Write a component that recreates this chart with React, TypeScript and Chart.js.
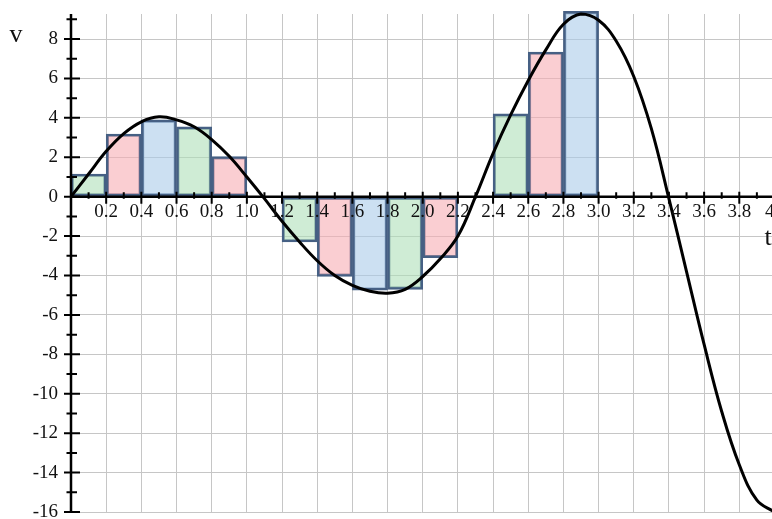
import { useEffect, useRef } from 'react';
import { Chart, registerables } from 'chart.js';

Chart.register(...registerables);

// ---- data ----
const CURVE_T = [
  0, 0.1, 0.2, 0.3, 0.4, 0.5, 0.6, 0.7, 0.8, 0.9,
  1.0, 1.1, 1.2, 1.3, 1.4, 1.5, 1.6, 1.7, 1.8, 1.9,
  2.0, 2.1, 2.2, 2.3, 2.4, 2.5, 2.6, 2.7, 2.8, 2.9,
  3.0, 3.1, 3.2, 3.3, 3.4, 3.5, 3.6, 3.7, 3.8, 3.9, 4.0,
];
const CURVE_V = [
  0, 1.15, 2.3, 3.2, 3.8, 4.05, 3.9, 3.55, 2.9, 2.05,
  1.0, -0.1, -1.25, -2.3, -3.25, -4.0, -4.5, -4.8, -4.9, -4.7,
  -4.05, -3.15, -2.0, 0.0, 2.2, 4.15, 5.9, 7.45, 8.75, 9.27,
  8.95, 7.9, 6.1, 3.45, -0.1, -3.8, -7.5, -10.9, -13.6, -15.4, -16.0,
];

const BAR_T = [0.1, 0.3, 0.5, 0.7, 0.9, 1.1, 1.3, 1.5, 1.7, 1.9, 2.1, 2.3, 2.5, 2.7, 2.9];
const BAR_V = [1.15, 3.18, 3.9, 3.54, 2.03, 0, -2.3, -4.04, -4.75, -4.7, -3.1, 0, 4.2, 7.34, 9.4];
const BAR_FILL_CYCLE = ['rgba(175,223,185,0.6)', 'rgba(247,173,180,0.6)', 'rgba(170,203,233,0.6)'];
const BAR_BORDER = 'rgb(70,96,132)';

const X_TICK_VALUES = [0, 0.2, 0.4, 0.6, 0.8, 1.0, 1.2, 1.4, 1.6, 1.8, 2.0, 2.2, 2.4, 2.6, 2.8, 3.0, 3.2, 3.4, 3.6, 3.8, 4.0];
const X_TICK_LABELS = ['', '0.2', '0.4', '0.6', '0.8', '1.0', '1.2', '1.4', '1.6', '1.8', '2.0', '2.2', '2.4', '2.6', '2.8', '3.0', '3.2', '3.4', '3.6', '3.8', '4  '];
const Y_TICK_VALUES = [-16, -14, -12, -10, -8, -6, -4, -2, 0, 2, 4, 6, 8];
const Y_TICK_LABELS = ['-16', '-14', '-12', '-10', '-8', '-6', '-4', '-2', '0', '2', '4', '6', '8'];

const X_MIN = 0;
const X_MAX = 3.986;
const Y_MIN = -16;
const Y_MAX = 9.27;

const FONT = '"Liberation Serif", "Times New Roman", serif';

export default function App() {
  const ref = useRef<HTMLCanvasElement>(null);

  useEffect(() => {
    document.body.style.margin = '0';
    const canvas = ref.current;
    if (!canvas) return;

    const axesPlugin = {
      id: 'mapleAxes',
      afterDatasetsDraw(chart: any) {
        const { ctx, chartArea, scales } = chart;
        const xs = scales.x;
        const ys = scales.y;
        const x0 = xs.getPixelForValue(0);
        const y0 = ys.getPixelForValue(0);
        ctx.save();
        ctx.strokeStyle = '#000';
        ctx.lineWidth = 2.5;
        ctx.beginPath();
        ctx.moveTo(x0, chartArea.top);
        ctx.lineTo(x0, chartArea.bottom);
        ctx.moveTo(chartArea.left, y0);
        ctx.lineTo(chartArea.right, y0);
        ctx.stroke();
        ctx.lineWidth = 2;
        ctx.beginPath();
        for (let k = -16; k <= 9; k++) {
          const py = ys.getPixelForValue(k);
          if (k % 2 === 0) {
            ctx.moveTo(x0 - 7, py);
            ctx.lineTo(x0 + 9, py);
          } else {
            ctx.moveTo(x0 - 4.5, py);
            ctx.lineTo(x0 + 6, py);
          }
        }
        for (let k = 1; k <= 39; k++) {
          const px = xs.getPixelForValue(k / 10);
          if (k % 2 === 0) {
            ctx.moveTo(px, y0 - 5);
            ctx.lineTo(px, y0 + 7);
          } else {
            ctx.moveTo(px, y0 - 4.5);
            ctx.lineTo(px, y0 + 2);
          }
        }
        ctx.stroke();
        ctx.restore();
      },
      afterDraw(chart: any) {
        const { ctx } = chart;
        ctx.save();
        ctx.fillStyle = '#111';
        ctx.font = `26px ${FONT}`;
        ctx.textAlign = 'center';
        ctx.textBaseline = 'alphabetic';
        ctx.fillText('v', 16, 42);
        ctx.fillText('t', 768, 245);
        ctx.restore();
      },
    };

    const chart = new Chart(canvas, {
      type: 'bar',
      data: {
        datasets: [
          {
            type: 'line',
            data: CURVE_T.map((t, i) => ({ x: t, y: CURVE_V[i] })),
            borderColor: '#000',
            borderWidth: 3,
            pointRadius: 0,
            tension: 0.4,
            order: 0,
            clip: false,
          } as any,
          {
            type: 'bar',
            data: BAR_T.map((t, i) => ({ x: t, y: BAR_V[i] })),
            backgroundColor: BAR_T.map((_, i) => BAR_FILL_CYCLE[i % 3]),
            borderColor: BAR_BORDER,
            borderWidth: 2.5,
            borderSkipped: false,
            barPercentage: 1,
            categoryPercentage: 1,
            order: 1,
            clip: false,
          } as any,
        ],
      },
      options: {
        responsive: false,
        animation: false,
        devicePixelRatio: 1,
        layout: { padding: { top: 14, right: 0, bottom: 7, left: 0 } },
        plugins: { legend: { display: false }, tooltip: { enabled: false } },
        scales: {
          x: {
            type: 'linear',
            position: { y: 0 } as any,
            min: X_MIN,
            max: X_MAX,
            offset: false,
            grid: { color: '#c6c6c6', lineWidth: 1, drawTicks: false, offset: false, z: -1 },
            border: { display: false },
            afterBuildTicks: (s: any) => {
              s.ticks = X_TICK_VALUES.map((v) => ({ value: v }));
            },
            afterFit: (s: any) => {
              s.paddingLeft = 0;
              s.paddingRight = 0;
            },
            ticks: {
              z: 1,
              autoSkip: false,
              maxRotation: 0,
              minRotation: 0,
              padding: 4,
              color: '#111',
              font: { family: FONT, size: 19 },
              callback: (_v: any, i: number) => X_TICK_LABELS[i],
            },
          },
          y: {
            type: 'linear',
            position: 'left',
            min: Y_MIN,
            max: Y_MAX,
            grid: { color: '#c6c6c6', lineWidth: 1, drawTicks: false },
            border: { display: false },
            afterBuildTicks: (s: any) => {
              s.ticks = Y_TICK_VALUES.map((v) => ({ value: v }));
            },
            afterFit: (s: any) => {
              s.width = 71;
              s.paddingTop = 0;
              s.paddingBottom = 0;
            },
            ticks: {
              autoSkip: false,
              padding: 13,
              color: '#111',
              font: { family: FONT, size: 19 },
              callback: (_v: any, i: number) => Y_TICK_LABELS[i],
            },
          },
        },
      } as any,
      plugins: [axesPlugin],
    });

    return () => chart.destroy();
  }, []);

  return <canvas ref={ref} width={772} height={519} style={{ display: 'block' }} />;
}
